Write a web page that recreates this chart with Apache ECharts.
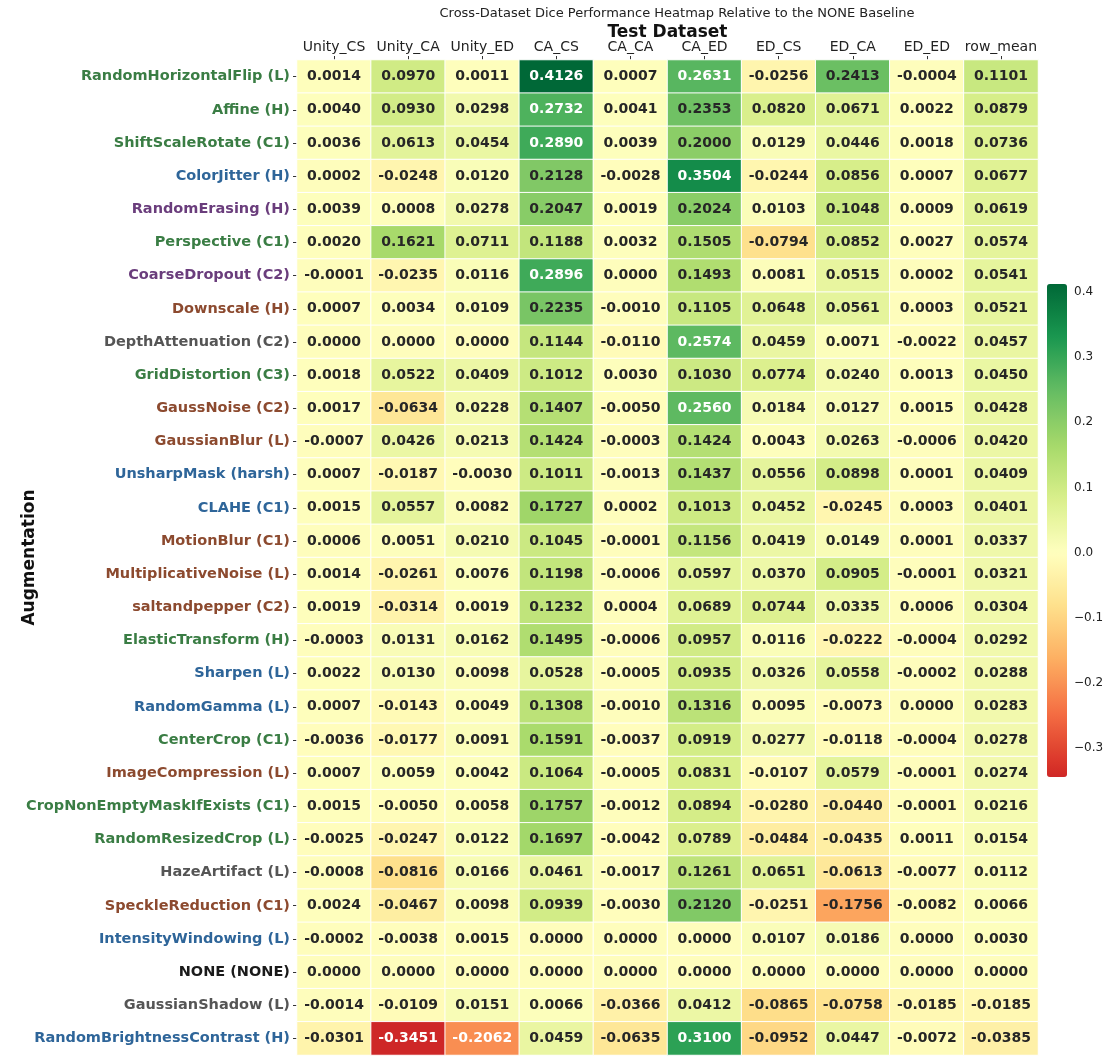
<!DOCTYPE html>
<html>
<head>
<meta charset="utf-8">
<title>Cross-Dataset Dice Heatmap</title>
<script src="https://cdn.jsdelivr.net/npm/echarts@6/dist/echarts.min.js"></script>
<style>
  html, body { margin: 0; padding: 0; background: #fff; }
  #chart { width: 1107px; height: 1062px; }
</style>
</head>
<body>
<div id="chart"></div>
<script>
// test dataset columns
var columns = ['Unity_CS', 'Unity_CA', 'Unity_ED', 'CA_CS', 'CA_CA', 'CA_ED', 'ED_CS', 'ED_CA', 'ED_ED', 'row_mean'];

// augmentations, top to bottom
var augmentations = [
  'RandomHorizontalFlip (L)', 'Affine (H)', 'ShiftScaleRotate (C1)', 'ColorJitter (H)',
  'RandomErasing (H)', 'Perspective (C1)', 'CoarseDropout (C2)', 'Downscale (H)',
  'DepthAttenuation (C2)', 'GridDistortion (C3)', 'GaussNoise (C2)', 'GaussianBlur (L)',
  'UnsharpMask (harsh)', 'CLAHE (C1)', 'MotionBlur (C1)', 'MultiplicativeNoise (L)',
  'saltandpepper (C2)', 'ElasticTransform (H)', 'Sharpen (L)', 'RandomGamma (L)',
  'CenterCrop (C1)', 'ImageCompression (L)', 'CropNonEmptyMaskIfExists (C1)', 'RandomResizedCrop (L)',
  'HazeArtifact (L)', 'SpeckleReduction (C1)', 'IntensityWindowing (L)', 'NONE (NONE)',
  'GaussianShadow (L)', 'RandomBrightnessContrast (H)'
];

// label colour group of each augmentation
var augGroup = [
  'green', 'green', 'green', 'blue', 'purple', 'green', 'purple', 'brown',
  'gray', 'green', 'brown', 'brown', 'blue', 'blue', 'brown', 'brown',
  'brown', 'green', 'blue', 'blue', 'green', 'brown', 'green', 'green',
  'gray', 'brown', 'blue', 'black', 'gray', 'blue'
];

// one array per column, same order as augmentations
var unityCS = [0.0014, 0.0040, 0.0036, 0.0002, 0.0039, 0.0020, -0.0001, 0.0007, 0.0000, 0.0018,
  0.0017, -0.0007, 0.0007, 0.0015, 0.0006, 0.0014, 0.0019, -0.0003, 0.0022, 0.0007,
  -0.0036, 0.0007, 0.0015, -0.0025, -0.0008, 0.0024, -0.0002, 0.0000, -0.0014, -0.0301];
var unityCA = [0.0970, 0.0930, 0.0613, -0.0248, 0.0008, 0.1621, -0.0235, 0.0034, 0.0000, 0.0522,
  -0.0634, 0.0426, -0.0187, 0.0557, 0.0051, -0.0261, -0.0314, 0.0131, 0.0130, -0.0143,
  -0.0177, 0.0059, -0.0050, -0.0247, -0.0816, -0.0467, -0.0038, 0.0000, -0.0109, -0.3451];
var unityED = [0.0011, 0.0298, 0.0454, 0.0120, 0.0278, 0.0711, 0.0116, 0.0109, 0.0000, 0.0409,
  0.0228, 0.0213, -0.0030, 0.0082, 0.0210, 0.0076, 0.0019, 0.0162, 0.0098, 0.0049,
  0.0091, 0.0042, 0.0058, 0.0122, 0.0166, 0.0098, 0.0015, 0.0000, 0.0151, -0.2062];
var caCS = [0.4126, 0.2732, 0.2890, 0.2128, 0.2047, 0.1188, 0.2896, 0.2235, 0.1144, 0.1012,
  0.1407, 0.1424, 0.1011, 0.1727, 0.1045, 0.1198, 0.1232, 0.1495, 0.0528, 0.1308,
  0.1591, 0.1064, 0.1757, 0.1697, 0.0461, 0.0939, 0.0000, 0.0000, 0.0066, 0.0459];
var caCA = [0.0007, 0.0041, 0.0039, -0.0028, 0.0019, 0.0032, 0.0000, -0.0010, -0.0110, 0.0030,
  -0.0050, -0.0003, -0.0013, 0.0002, -0.0001, -0.0006, 0.0004, -0.0006, -0.0005, -0.0010,
  -0.0037, -0.0005, -0.0012, -0.0042, -0.0017, -0.0030, 0.0000, 0.0000, -0.0366, -0.0635];
var caED = [0.2631, 0.2353, 0.2000, 0.3504, 0.2024, 0.1505, 0.1493, 0.1105, 0.2574, 0.1030,
  0.2560, 0.1424, 0.1437, 0.1013, 0.1156, 0.0597, 0.0689, 0.0957, 0.0935, 0.1316,
  0.0919, 0.0831, 0.0894, 0.0789, 0.1261, 0.2120, 0.0000, 0.0000, 0.0412, 0.3100];
var edCS = [-0.0256, 0.0820, 0.0129, -0.0244, 0.0103, -0.0794, 0.0081, 0.0648, 0.0459, 0.0774,
  0.0184, 0.0043, 0.0556, 0.0452, 0.0419, 0.0370, 0.0744, 0.0116, 0.0326, 0.0095,
  0.0277, -0.0107, -0.0280, -0.0484, 0.0651, -0.0251, 0.0107, 0.0000, -0.0865, -0.0952];
var edCA = [0.2413, 0.0671, 0.0446, 0.0856, 0.1048, 0.0852, 0.0515, 0.0561, 0.0071, 0.0240,
  0.0127, 0.0263, 0.0898, -0.0245, 0.0149, 0.0905, 0.0335, -0.0222, 0.0558, -0.0073,
  -0.0118, 0.0579, -0.0440, -0.0435, -0.0613, -0.1756, 0.0186, 0.0000, -0.0758, 0.0447];
var edED = [-0.0004, 0.0022, 0.0018, 0.0007, 0.0009, 0.0027, 0.0002, 0.0003, -0.0022, 0.0013,
  0.0015, -0.0006, 0.0001, 0.0003, 0.0001, -0.0001, 0.0006, -0.0004, -0.0002, 0.0000,
  -0.0004, -0.0001, -0.0001, 0.0011, -0.0077, -0.0082, 0.0000, 0.0000, -0.0185, -0.0072];
var rowMean = [0.1101, 0.0879, 0.0736, 0.0677, 0.0619, 0.0574, 0.0541, 0.0521, 0.0457, 0.0450,
  0.0428, 0.0420, 0.0409, 0.0401, 0.0337, 0.0321, 0.0304, 0.0292, 0.0288, 0.0283,
  0.0278, 0.0274, 0.0216, 0.0154, 0.0112, 0.0066, 0.0030, 0.0000, -0.0185, -0.0385];

// colorbar ticks
var cbarTicks = [-0.3, -0.2, -0.1, 0.0, 0.1, 0.2, 0.3, 0.4];

var columnValues = [unityCS, unityCA, unityED, caCS, caCA, caED, edCS, edCA, edED, rowMean];

var groupColors = {
  green: '#3a7d44', blue: '#2e6599', purple: '#6a3d7c',
  brown: '#8c4a2f', gray: '#555555', black: '#1a1a1a'
};

// RdYlGn, centred on 0 like seaborn's center=0
var rdylgn = ['#a50026', '#d73027', '#f46d43', '#fdae61', '#fee08b', '#ffffbf',
  '#d9ef8b', '#a6d96a', '#66bd63', '#1a9850', '#006837'];

function hexToRgb(h) {
  return [parseInt(h.substr(1, 2), 16), parseInt(h.substr(3, 2), 16), parseInt(h.substr(5, 2), 16)];
}
function sampleCmap(f) {
  f = Math.max(0, Math.min(1, f));
  var p = f * (rdylgn.length - 1);
  var i = Math.min(Math.floor(p), rdylgn.length - 2);
  var t = p - i;
  var a = hexToRgb(rdylgn[i]), b = hexToRgb(rdylgn[i + 1]);
  return [0, 1, 2].map(function (k) { return Math.round(a[k] + (b[k] - a[k]) * t); });
}
function rgbStr(c) { return 'rgb(' + c[0] + ',' + c[1] + ',' + c[2] + ')'; }

var allVals = [];
columnValues.forEach(function (col) { allVals = allVals.concat(col); });
var vmin = Math.min.apply(null, allVals);
var vmax = Math.max.apply(null, allVals);
var vrange = Math.max(vmax, -vmin);

function valueColor(v) {
  return sampleCmap((v + vrange) / (2 * vrange));
}

var rampColors = [];
for (var s = 0; s <= 80; s++) {
  var v = vmin + (vmax - vmin) * s / 80;
  rampColors.push(rgbStr(valueColor(v)));
}

function luminance(c) {
  var lin = c.map(function (x) {
    x = x / 255;
    return x <= 0.03928 ? x / 12.92 : Math.pow((x + 0.055) / 1.055, 2.4);
  });
  return 0.2126 * lin[0] + 0.7152 * lin[1] + 0.0722 * lin[2];
}

var cells = [];
columnValues.forEach(function (col, ci) {
  col.forEach(function (val, ri) {
    cells.push({
      value: [ci, ri, val],
      label: { color: luminance(valueColor(val)) > 0.408 ? '#262626' : '#ffffff' }
    });
  });
});

var rich = {};
Object.keys(groupColors).forEach(function (g) {
  rich[g] = { color: groupColors[g], fontWeight: 'bold', fontSize: 14.5, fontFamily: 'DejaVu Sans' };
});

var chart = echarts.init(document.getElementById('chart'));
var FONT = 'DejaVu Sans';

var option = {
  backgroundColor: '#ffffff',
  animation: false,
  textStyle: { fontFamily: FONT },
  title: {
    text: 'Cross-Dataset Dice Performance Heatmap Relative to the NONE Baseline',
    left: 672,
    top: 2,
    textAlign: 'center',
    textStyle: { fontSize: 13, fontWeight: 'normal', color: '#222', fontFamily: FONT }
  },
  grid: [
    { left: 297, right: 69, top: 60, bottom: 7, outerBoundsMode: 'none' },
    { left: 1047, width: 20, top: 284, height: 493, outerBoundsMode: 'none' }
  ],
  xAxis: [
    {
      type: 'category',
      data: columns,
      position: 'top',
      name: 'Test Dataset',
      nameLocation: 'middle',
      nameGap: 19,
      nameMoveOverlap: false,
      nameTextStyle: { fontSize: 17, fontWeight: 'bold', color: '#111' },
      axisLine: { show: false },
      axisTick: { show: true, alignWithLabel: true, length: 4, lineStyle: { color: '#333' } },
      axisLabel: { fontSize: 14, color: '#222', margin: 6, interval: 0 },
      splitArea: { show: false }
    },
    { gridIndex: 1, type: 'value', show: false, min: 0, max: 1 }
  ],
  yAxis: [
    {
      type: 'category',
      data: augmentations,
      inverse: true,
      name: 'Augmentation',
      nameLocation: 'middle',
      nameGap: 259,
      nameMoveOverlap: false,
      nameTextStyle: { fontSize: 17, fontWeight: 'bold', color: '#111' },
      axisLine: { show: false },
      axisTick: { show: true, alignWithLabel: true, length: 4, lineStyle: { color: '#333' } },
      axisLabel: {
        interval: 0,
        margin: 7,
        formatter: function (val, idx) { return '{' + augGroup[idx] + '|' + val + '}'; },
        rich: rich
      }
    },
    {
      gridIndex: 1,
      type: 'value',
      position: 'right',
      min: vmin,
      max: vmax,
      axisLine: { show: false },
      splitLine: { show: false },
      axisTick: { show: true, length: 4, customValues: cbarTicks, lineStyle: { color: '#333' } },
      axisLabel: {
        customValues: cbarTicks,
        fontSize: 12,
        color: '#222',
        margin: 7,
        formatter: function (v) { return (v < -1e-9 ? '\u2212' : '') + Math.abs(v).toFixed(1); }
      }
    }
  ],
  visualMap: {
    type: 'continuous',
    seriesIndex: 0,
    dimension: 2,
    min: vmin,
    max: vmax,
    calculable: false,
    hoverLink: false,
    orient: 'vertical',
    left: 1047,
    top: 284,
    itemWidth: 20,
    itemHeight: 493,
    padding: 0,
    text: null,
    inRange: { color: rampColors }
  },
  series: [
    {
      type: 'heatmap',
      data: cells,
      label: {
        show: true,
        fontSize: 14,
        fontWeight: 'bold',
        fontFamily: FONT,
        formatter: function (p) { return p.value[2].toFixed(4); }
      },
      itemStyle: { borderColor: '#ffffff', borderWidth: 1 },
      emphasis: { disabled: true }
    },
    { type: 'scatter', xAxisIndex: 1, yAxisIndex: 1, data: [] }
  ]
};

chart.setOption(option);
</script>
</body>
</html>
